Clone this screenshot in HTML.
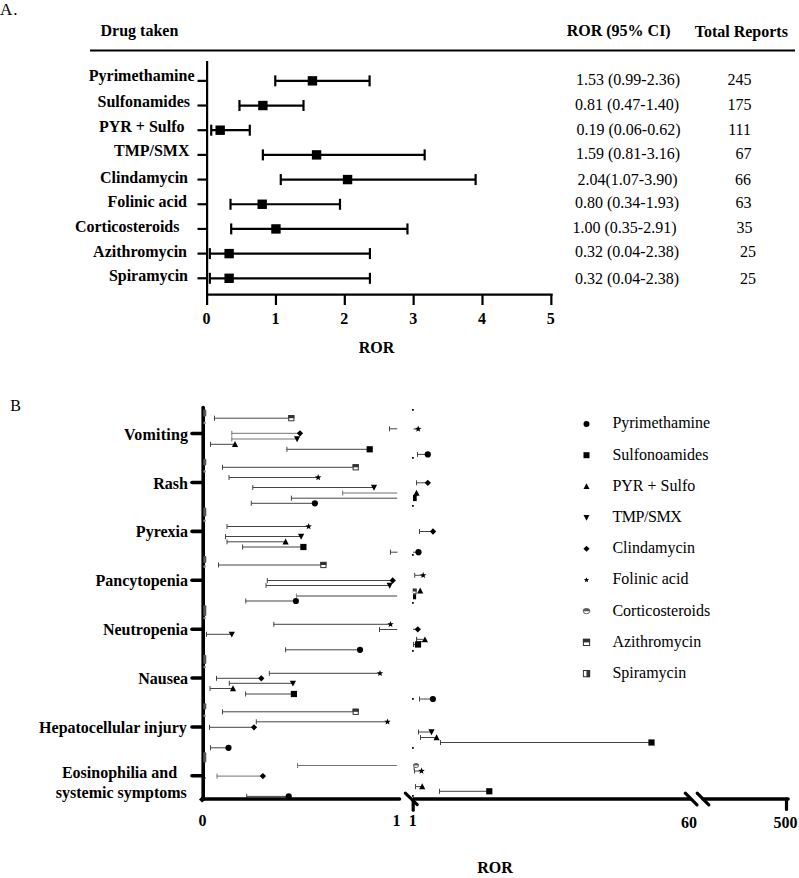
<!DOCTYPE html>
<html><head><meta charset="utf-8"><style>
html,body{margin:0;padding:0;background:#fff;width:799px;height:878px;overflow:hidden}
svg{display:block;font-family:"Liberation Serif", serif}
</style></head><body>
<svg width="799" height="878" viewBox="0 0 799 878">
<defs><clipPath id="rc"><rect x="412.9" y="380" width="400" height="420"/></clipPath></defs>
<rect width="799" height="878" fill="#fff"/>
<text x="0" y="14.6" font-size="17" letter-spacing="1" fill="#000">A.</text>
<text x="100.5" y="36.2" font-weight="bold" font-size="16" text-anchor="start" fill="#000">Drug taken</text>
<text x="566.7" y="36.2" font-weight="bold" font-size="16" text-anchor="start" fill="#000">ROR (95% CI)</text>
<text x="694.7" y="36.6" font-weight="bold" font-size="16" text-anchor="start" fill="#000">Total Reports</text>
<line x1="90" y1="50.5" x2="795" y2="50.5" stroke="#000" stroke-width="2.2" stroke-linecap="butt"/>
<line x1="207.1" y1="61" x2="207.1" y2="295.5" stroke="#000" stroke-width="2.2" stroke-linecap="butt"/>
<line x1="206.5" y1="294.6" x2="552.6" y2="294.6" stroke="#000" stroke-width="2.2" stroke-linecap="butt"/>
<line x1="207.1" y1="294" x2="207.1" y2="305" stroke="#000" stroke-width="2.2" stroke-linecap="butt"/>
<text x="206.6" y="324" font-weight="bold" font-size="16" text-anchor="middle" fill="#000">0</text>
<line x1="275.95" y1="294" x2="275.95" y2="305" stroke="#000" stroke-width="2.2" stroke-linecap="butt"/>
<text x="275.45" y="324" font-weight="bold" font-size="16" text-anchor="middle" fill="#000">1</text>
<line x1="344.79999999999995" y1="294" x2="344.79999999999995" y2="305" stroke="#000" stroke-width="2.2" stroke-linecap="butt"/>
<text x="344.29999999999995" y="324" font-weight="bold" font-size="16" text-anchor="middle" fill="#000">2</text>
<line x1="413.65" y1="294" x2="413.65" y2="305" stroke="#000" stroke-width="2.2" stroke-linecap="butt"/>
<text x="413.15" y="324" font-weight="bold" font-size="16" text-anchor="middle" fill="#000">3</text>
<line x1="482.5" y1="294" x2="482.5" y2="305" stroke="#000" stroke-width="2.2" stroke-linecap="butt"/>
<text x="482.0" y="324" font-weight="bold" font-size="16" text-anchor="middle" fill="#000">4</text>
<line x1="551.35" y1="294" x2="551.35" y2="305" stroke="#000" stroke-width="2.2" stroke-linecap="butt"/>
<text x="550.85" y="324" font-weight="bold" font-size="16" text-anchor="middle" fill="#000">5</text>
<text x="376.5" y="352.8" font-weight="bold" font-size="16" text-anchor="middle" fill="#000">ROR</text>
<line x1="197.5" y1="80.85" x2="207.1" y2="80.85" stroke="#000" stroke-width="2.2" stroke-linecap="butt"/>
<text x="194.5" y="81" font-weight="bold" font-size="16" text-anchor="end" fill="#000">Pyrimethamine</text>
<line x1="275.26149999999996" y1="80.85" x2="369.586" y2="80.85" stroke="#000" stroke-width="2.2" stroke-linecap="butt"/>
<line x1="275.26149999999996" y1="75.35" x2="275.26149999999996" y2="86.35" stroke="#000" stroke-width="2.2" stroke-linecap="butt"/>
<line x1="369.586" y1="75.35" x2="369.586" y2="86.35" stroke="#000" stroke-width="2.2" stroke-linecap="butt"/>
<rect x="307.74" y="76.15" width="9.4" height="9.4" fill="#000"/>
<text x="576" y="85.4" font-weight="normal" font-size="16" text-anchor="start" fill="#000">1.53 (0.99-2.36)</text>
<text x="751.5" y="85.4" font-weight="normal" font-size="16" text-anchor="end" fill="#000">245</text>
<line x1="197.5" y1="105.53" x2="207.1" y2="105.53" stroke="#000" stroke-width="2.2" stroke-linecap="butt"/>
<text x="190" y="106.7" font-weight="bold" font-size="16" text-anchor="end" fill="#000">Sulfonamides</text>
<line x1="239.4595" y1="105.53" x2="303.49" y2="105.53" stroke="#000" stroke-width="2.2" stroke-linecap="butt"/>
<line x1="239.4595" y1="100.03" x2="239.4595" y2="111.03" stroke="#000" stroke-width="2.2" stroke-linecap="butt"/>
<line x1="303.49" y1="100.03" x2="303.49" y2="111.03" stroke="#000" stroke-width="2.2" stroke-linecap="butt"/>
<rect x="258.17" y="100.83" width="9.4" height="9.4" fill="#000"/>
<text x="575" y="110.15" font-weight="normal" font-size="16" text-anchor="start" fill="#000">0.81 (0.47-1.40)</text>
<text x="751.5" y="110.15" font-weight="normal" font-size="16" text-anchor="end" fill="#000">175</text>
<line x1="197.5" y1="130.20999999999998" x2="207.1" y2="130.20999999999998" stroke="#000" stroke-width="2.2" stroke-linecap="butt"/>
<text x="184.5" y="131.6" font-weight="bold" font-size="16" text-anchor="end" fill="#000">PYR + Sulfo</text>
<line x1="211.231" y1="130.20999999999998" x2="249.78699999999998" y2="130.20999999999998" stroke="#000" stroke-width="2.2" stroke-linecap="butt"/>
<line x1="211.231" y1="124.70999999999998" x2="211.231" y2="135.70999999999998" stroke="#000" stroke-width="2.2" stroke-linecap="butt"/>
<line x1="249.78699999999998" y1="124.70999999999998" x2="249.78699999999998" y2="135.70999999999998" stroke="#000" stroke-width="2.2" stroke-linecap="butt"/>
<rect x="215.48" y="125.51" width="9.4" height="9.4" fill="#000"/>
<text x="576.5" y="134.9" font-weight="normal" font-size="16" text-anchor="start" fill="#000">0.19 (0.06-0.62)</text>
<text x="751" y="134.9" font-weight="normal" font-size="16" text-anchor="end" fill="#000">111</text>
<line x1="197.5" y1="154.89" x2="207.1" y2="154.89" stroke="#000" stroke-width="2.2" stroke-linecap="butt"/>
<text x="189.5" y="156.2" font-weight="bold" font-size="16" text-anchor="end" fill="#000">TMP/SMX</text>
<line x1="262.8685" y1="154.89" x2="424.666" y2="154.89" stroke="#000" stroke-width="2.2" stroke-linecap="butt"/>
<line x1="262.8685" y1="149.39" x2="262.8685" y2="160.39" stroke="#000" stroke-width="2.2" stroke-linecap="butt"/>
<line x1="424.666" y1="149.39" x2="424.666" y2="160.39" stroke="#000" stroke-width="2.2" stroke-linecap="butt"/>
<rect x="311.87" y="150.19" width="9.4" height="9.4" fill="#000"/>
<text x="576" y="159.35" font-weight="normal" font-size="16" text-anchor="start" fill="#000">1.59 (0.81-3.16)</text>
<text x="751.5" y="159.35" font-weight="normal" font-size="16" text-anchor="end" fill="#000">67</text>
<line x1="197.5" y1="179.57" x2="207.1" y2="179.57" stroke="#000" stroke-width="2.2" stroke-linecap="butt"/>
<text x="188" y="182.6" font-weight="bold" font-size="16" text-anchor="end" fill="#000">Clindamycin</text>
<line x1="280.7695" y1="179.57" x2="475.615" y2="179.57" stroke="#000" stroke-width="2.2" stroke-linecap="butt"/>
<line x1="280.7695" y1="174.07" x2="280.7695" y2="185.07" stroke="#000" stroke-width="2.2" stroke-linecap="butt"/>
<line x1="475.615" y1="174.07" x2="475.615" y2="185.07" stroke="#000" stroke-width="2.2" stroke-linecap="butt"/>
<rect x="342.85" y="174.87" width="9.4" height="9.4" fill="#000"/>
<text x="577.5" y="185.2" font-weight="normal" font-size="16" text-anchor="start" fill="#000">2.04(1.07-3.90)</text>
<text x="751" y="185.2" font-weight="normal" font-size="16" text-anchor="end" fill="#000">66</text>
<line x1="197.5" y1="204.25" x2="207.1" y2="204.25" stroke="#000" stroke-width="2.2" stroke-linecap="butt"/>
<text x="187" y="207" font-weight="bold" font-size="16" text-anchor="end" fill="#000">Folinic acid</text>
<line x1="230.509" y1="204.25" x2="339.9805" y2="204.25" stroke="#000" stroke-width="2.2" stroke-linecap="butt"/>
<line x1="230.509" y1="198.75" x2="230.509" y2="209.75" stroke="#000" stroke-width="2.2" stroke-linecap="butt"/>
<line x1="339.9805" y1="198.75" x2="339.9805" y2="209.75" stroke="#000" stroke-width="2.2" stroke-linecap="butt"/>
<rect x="257.48" y="199.55" width="9.4" height="9.4" fill="#000"/>
<text x="575" y="208.35" font-weight="normal" font-size="16" text-anchor="start" fill="#000">0.80 (0.34-1.93)</text>
<text x="751.5" y="208.35" font-weight="normal" font-size="16" text-anchor="end" fill="#000">63</text>
<line x1="197.5" y1="228.92999999999998" x2="207.1" y2="228.92999999999998" stroke="#000" stroke-width="2.2" stroke-linecap="butt"/>
<text x="179.5" y="231.7" font-weight="bold" font-size="16" text-anchor="end" fill="#000">Corticosteroids</text>
<line x1="231.1975" y1="228.92999999999998" x2="407.45349999999996" y2="228.92999999999998" stroke="#000" stroke-width="2.2" stroke-linecap="butt"/>
<line x1="231.1975" y1="223.42999999999998" x2="231.1975" y2="234.42999999999998" stroke="#000" stroke-width="2.2" stroke-linecap="butt"/>
<line x1="407.45349999999996" y1="223.42999999999998" x2="407.45349999999996" y2="234.42999999999998" stroke="#000" stroke-width="2.2" stroke-linecap="butt"/>
<rect x="271.25" y="224.23" width="9.4" height="9.4" fill="#000"/>
<text x="572.5" y="233.1" font-weight="normal" font-size="16" text-anchor="start" fill="#000">1.00 (0.35-2.91)</text>
<text x="752.5" y="233.1" font-weight="normal" font-size="16" text-anchor="end" fill="#000">35</text>
<line x1="197.5" y1="253.60999999999999" x2="207.1" y2="253.60999999999999" stroke="#000" stroke-width="2.2" stroke-linecap="butt"/>
<text x="187" y="256.5" font-weight="bold" font-size="16" text-anchor="end" fill="#000">Azithromycin</text>
<line x1="209.85399999999998" y1="253.60999999999999" x2="369.93025" y2="253.60999999999999" stroke="#000" stroke-width="2.2" stroke-linecap="butt"/>
<line x1="209.85399999999998" y1="248.10999999999999" x2="209.85399999999998" y2="259.11" stroke="#000" stroke-width="2.2" stroke-linecap="butt"/>
<line x1="369.93025" y1="248.10999999999999" x2="369.93025" y2="259.11" stroke="#000" stroke-width="2.2" stroke-linecap="butt"/>
<rect x="224.43" y="248.91" width="9.4" height="9.4" fill="#000"/>
<text x="575" y="257.45" font-weight="normal" font-size="16" text-anchor="start" fill="#000">0.32 (0.04-2.38)</text>
<text x="756" y="257.45" font-weight="normal" font-size="16" text-anchor="end" fill="#000">25</text>
<line x1="197.5" y1="278.28999999999996" x2="207.1" y2="278.28999999999996" stroke="#000" stroke-width="2.2" stroke-linecap="butt"/>
<text x="188" y="281.1" font-weight="bold" font-size="16" text-anchor="end" fill="#000">Spiramycin</text>
<line x1="209.85399999999998" y1="278.28999999999996" x2="369.93025" y2="278.28999999999996" stroke="#000" stroke-width="2.2" stroke-linecap="butt"/>
<line x1="209.85399999999998" y1="272.78999999999996" x2="209.85399999999998" y2="283.78999999999996" stroke="#000" stroke-width="2.2" stroke-linecap="butt"/>
<line x1="369.93025" y1="272.78999999999996" x2="369.93025" y2="283.78999999999996" stroke="#000" stroke-width="2.2" stroke-linecap="butt"/>
<rect x="224.43" y="273.59" width="9.4" height="9.4" fill="#000"/>
<text x="575" y="284.2" font-weight="normal" font-size="16" text-anchor="start" fill="#000">0.32 (0.04-2.38)</text>
<text x="756" y="284.2" font-weight="normal" font-size="16" text-anchor="end" fill="#000">25</text>
<text x="10.3" y="410.6" font-weight="normal" font-size="16" text-anchor="start" fill="#000">B</text>
<line x1="214.5" y1="418.2" x2="291.3" y2="418.2" stroke="#444" stroke-width="1" stroke-linecap="butt"/>
<line x1="214.5" y1="415.7" x2="214.5" y2="420.7" stroke="#444" stroke-width="1" stroke-linecap="butt"/>
<rect x="288.7" y="415.59999999999997" width="5.2" height="5.2" fill="#fff" stroke="#333" stroke-width="1"/>
<rect x="288.2" y="415.09999999999997" width="6.2" height="3.1" fill="#333"/>
<line x1="231.8" y1="433.3" x2="300" y2="433.3" stroke="#727272" stroke-width="1" stroke-linecap="butt"/>
<line x1="231.8" y1="430.8" x2="231.8" y2="435.8" stroke="#727272" stroke-width="1" stroke-linecap="butt"/>
<polygon points="300,430.13800000000003 303.162,433.3 300,436.462 296.838,433.3" fill="#000"/>
<line x1="231.8" y1="439.0" x2="297.1" y2="439.0" stroke="#727272" stroke-width="1" stroke-linecap="butt"/>
<line x1="231.8" y1="436.5" x2="231.8" y2="441.5" stroke="#727272" stroke-width="1" stroke-linecap="butt"/>
<polygon points="297.1,442.255 300.20000000000005,436.365 294.0,436.365" fill="#000"/>
<line x1="210.5" y1="444.3" x2="235" y2="444.3" stroke="#444" stroke-width="1" stroke-linecap="butt"/>
<line x1="210.5" y1="441.8" x2="210.5" y2="446.8" stroke="#444" stroke-width="1" stroke-linecap="butt"/>
<polygon points="235,441.045 238.1,446.935 231.9,446.935" fill="#000"/>
<line x1="286.9" y1="449.3" x2="369.7" y2="449.3" stroke="#444" stroke-width="1" stroke-linecap="butt"/>
<line x1="286.9" y1="446.8" x2="286.9" y2="451.8" stroke="#444" stroke-width="1" stroke-linecap="butt"/>
<rect x="366.59999999999997" y="446.2" width="6.2" height="6.2" fill="#000"/>
<rect x="412" y="409" width="1.8" height="1.8" fill="#111"/>
<line x1="389.5" y1="428.8" x2="397.2" y2="428.8" stroke="#444" stroke-width="1" stroke-linecap="butt"/>
<line x1="389.5" y1="426.3" x2="389.5" y2="431.3" stroke="#444" stroke-width="1" stroke-linecap="butt"/>
<line x1="413.5" y1="429" x2="418" y2="429" stroke="#444" stroke-width="1" stroke-linecap="butt"/>
<polygon points="418.20,425.59 419.04,427.84 421.44,427.95 419.56,429.44 420.20,431.76 418.20,430.43 416.20,431.76 416.84,429.44 414.96,427.95 417.36,427.84" fill="#000"/>
<line x1="417.5" y1="454.4" x2="427.8" y2="454.4" stroke="#444" stroke-width="1" stroke-linecap="butt"/>
<line x1="417.5" y1="451.9" x2="417.5" y2="456.9" stroke="#444" stroke-width="1" stroke-linecap="butt"/>
<circle cx="427.8" cy="454.4" r="3.1" fill="#000"/>
<rect x="412" y="457" width="1.8" height="1.8" fill="#111"/>
<line x1="222.5" y1="467.3" x2="355.7" y2="467.3" stroke="#444" stroke-width="1" stroke-linecap="butt"/>
<line x1="222.5" y1="464.8" x2="222.5" y2="469.8" stroke="#444" stroke-width="1" stroke-linecap="butt"/>
<rect x="353.09999999999997" y="464.7" width="5.2" height="5.2" fill="#fff" stroke="#333" stroke-width="1"/>
<rect x="352.59999999999997" y="464.2" width="6.2" height="3.1" fill="#333"/>
<line x1="229" y1="477.5" x2="318.2" y2="477.5" stroke="#444" stroke-width="1" stroke-linecap="butt"/>
<line x1="229" y1="475.0" x2="229" y2="480.0" stroke="#444" stroke-width="1" stroke-linecap="butt"/>
<polygon points="318.20,474.09 319.04,476.34 321.44,476.45 319.56,477.94 320.20,480.26 318.20,478.93 316.20,480.26 316.84,477.94 314.96,476.45 317.36,476.34" fill="#000"/>
<line x1="252.8" y1="487.5" x2="374" y2="487.5" stroke="#444" stroke-width="1" stroke-linecap="butt"/>
<line x1="252.8" y1="485.0" x2="252.8" y2="490.0" stroke="#444" stroke-width="1" stroke-linecap="butt"/>
<polygon points="374,490.755 377.1,484.865 370.9,484.865" fill="#000"/>
<line x1="342.7" y1="493" x2="397.2" y2="493" stroke="#727272" stroke-width="1" stroke-linecap="butt"/>
<line x1="342.7" y1="490.5" x2="342.7" y2="495.5" stroke="#727272" stroke-width="1" stroke-linecap="butt"/>
<line x1="291.4" y1="498.2" x2="397.2" y2="498.2" stroke="#444" stroke-width="1" stroke-linecap="butt"/>
<line x1="291.4" y1="495.7" x2="291.4" y2="500.7" stroke="#444" stroke-width="1" stroke-linecap="butt"/>
<line x1="251.3" y1="503.3" x2="314.9" y2="503.3" stroke="#444" stroke-width="1" stroke-linecap="butt"/>
<line x1="251.3" y1="500.8" x2="251.3" y2="505.8" stroke="#444" stroke-width="1" stroke-linecap="butt"/>
<circle cx="314.9" cy="503.3" r="3.1" fill="#000"/>
<line x1="416.5" y1="482.8" x2="427.8" y2="482.8" stroke="#444" stroke-width="1" stroke-linecap="butt"/>
<line x1="416.5" y1="480.3" x2="416.5" y2="485.3" stroke="#444" stroke-width="1" stroke-linecap="butt"/>
<polygon points="427.8,479.63800000000003 430.962,482.8 427.8,485.962 424.63800000000003,482.8" fill="#000"/>
<g clip-path="url(#rc)">
<rect x="410.5" y="494.9" width="6.2" height="6.2" fill="#000"/>
</g>
<polygon points="416.5,489.745 419.6,495.635 413.4,495.635" fill="#000"/>
<rect x="412" y="505" width="1.8" height="1.8" fill="#111"/>
<line x1="227" y1="526.5" x2="308.6" y2="526.5" stroke="#444" stroke-width="1" stroke-linecap="butt"/>
<line x1="227" y1="524.0" x2="227" y2="529.0" stroke="#444" stroke-width="1" stroke-linecap="butt"/>
<polygon points="308.60,523.09 309.44,525.34 311.84,525.45 309.96,526.94 310.60,529.26 308.60,527.93 306.60,529.26 307.24,526.94 305.36,525.45 307.76,525.34" fill="#000"/>
<line x1="225.5" y1="536.5" x2="301.1" y2="536.5" stroke="#444" stroke-width="1" stroke-linecap="butt"/>
<line x1="225.5" y1="534.0" x2="225.5" y2="539.0" stroke="#444" stroke-width="1" stroke-linecap="butt"/>
<polygon points="301.1,539.755 304.20000000000005,533.865 298.0,533.865" fill="#000"/>
<line x1="227" y1="541.8" x2="285.6" y2="541.8" stroke="#444" stroke-width="1" stroke-linecap="butt"/>
<line x1="227" y1="539.3" x2="227" y2="544.3" stroke="#444" stroke-width="1" stroke-linecap="butt"/>
<polygon points="285.6,538.545 288.70000000000005,544.435 282.5,544.435" fill="#000"/>
<line x1="242.6" y1="547" x2="303.4" y2="547" stroke="#444" stroke-width="1" stroke-linecap="butt"/>
<line x1="242.6" y1="544.5" x2="242.6" y2="549.5" stroke="#444" stroke-width="1" stroke-linecap="butt"/>
<rect x="300.29999999999995" y="543.9" width="6.2" height="6.2" fill="#000"/>
<line x1="390.5" y1="552.2" x2="397.5" y2="552.2" stroke="#444" stroke-width="1" stroke-linecap="butt"/>
<line x1="390.5" y1="549.7" x2="390.5" y2="554.7" stroke="#444" stroke-width="1" stroke-linecap="butt"/>
<line x1="419.5" y1="531.5" x2="433" y2="531.5" stroke="#444" stroke-width="1" stroke-linecap="butt"/>
<line x1="419.5" y1="529.0" x2="419.5" y2="534.0" stroke="#444" stroke-width="1" stroke-linecap="butt"/>
<polygon points="433,528.338 436.162,531.5 433,534.662 429.838,531.5" fill="#000"/>
<line x1="413" y1="552.2" x2="418" y2="552.2" stroke="#444" stroke-width="1" stroke-linecap="butt"/>
<circle cx="418.5" cy="552.2" r="3.1" fill="#000"/>
<rect x="412" y="554" width="1.8" height="1.8" fill="#111"/>
<line x1="218.5" y1="565" x2="323.4" y2="565" stroke="#444" stroke-width="1" stroke-linecap="butt"/>
<line x1="218.5" y1="562.5" x2="218.5" y2="567.5" stroke="#444" stroke-width="1" stroke-linecap="butt"/>
<rect x="320.79999999999995" y="562.4" width="5.2" height="5.2" fill="#fff" stroke="#333" stroke-width="1"/>
<rect x="320.29999999999995" y="561.9" width="6.2" height="3.1" fill="#333"/>
<line x1="267.3" y1="580.5" x2="392.7" y2="580.5" stroke="#444" stroke-width="1" stroke-linecap="butt"/>
<line x1="267.3" y1="578.0" x2="267.3" y2="583.0" stroke="#444" stroke-width="1" stroke-linecap="butt"/>
<polygon points="392.7,577.338 395.86199999999997,580.5 392.7,583.662 389.538,580.5" fill="#000"/>
<line x1="266" y1="585.5" x2="389.7" y2="585.5" stroke="#444" stroke-width="1" stroke-linecap="butt"/>
<line x1="266" y1="583.0" x2="266" y2="588.0" stroke="#444" stroke-width="1" stroke-linecap="butt"/>
<polygon points="389.7,588.755 392.8,582.865 386.59999999999997,582.865" fill="#000"/>
<line x1="296.4" y1="595.9" x2="397.2" y2="595.9" stroke="#808080" stroke-width="1.5" stroke-linecap="butt"/>
<line x1="296.4" y1="593.4" x2="296.4" y2="598.4" stroke="#808080" stroke-width="1" stroke-linecap="butt"/>
<line x1="245.8" y1="601" x2="295.9" y2="601" stroke="#444" stroke-width="1" stroke-linecap="butt"/>
<line x1="245.8" y1="598.5" x2="245.8" y2="603.5" stroke="#444" stroke-width="1" stroke-linecap="butt"/>
<circle cx="295.9" cy="601" r="3.1" fill="#000"/>
<line x1="414.7" y1="575.3" x2="423.2" y2="575.3" stroke="#444" stroke-width="1" stroke-linecap="butt"/>
<line x1="414.7" y1="572.8" x2="414.7" y2="577.8" stroke="#444" stroke-width="1" stroke-linecap="butt"/>
<polygon points="423.20,571.89 424.04,574.14 426.44,574.25 424.56,575.74 425.20,578.06 423.20,576.73 421.20,578.06 421.84,575.74 419.96,574.25 422.36,574.14" fill="#000"/>
<line x1="413.2" y1="588.5" x2="413.2" y2="593" stroke="#444" stroke-width="1" stroke-linecap="butt"/>
<g clip-path="url(#rc)">
<rect x="411.5" y="589.2" width="4.6" height="4.6" fill="#fff" stroke="#333" stroke-width="1"/>
<rect x="411.0" y="588.7" width="5.6" height="2.8" fill="#333"/>
<rect x="411.1" y="594.3" width="5.0" height="5.0" fill="#000"/>
</g>
<polygon points="420.2,587.545 423.3,593.435 417.09999999999997,593.435" fill="#000"/>
<rect x="412" y="602" width="1.8" height="1.8" fill="#111"/>
<line x1="273.8" y1="624.3" x2="390.5" y2="624.3" stroke="#444" stroke-width="1" stroke-linecap="butt"/>
<line x1="273.8" y1="621.8" x2="273.8" y2="626.8" stroke="#444" stroke-width="1" stroke-linecap="butt"/>
<polygon points="390.50,620.89 391.34,623.14 393.74,623.25 391.86,624.74 392.50,627.06 390.50,625.73 388.50,627.06 389.14,624.74 387.26,623.25 389.66,623.14" fill="#000"/>
<line x1="379.5" y1="629.5" x2="397.2" y2="629.5" stroke="#444" stroke-width="1" stroke-linecap="butt"/>
<line x1="379.5" y1="627.0" x2="379.5" y2="632.0" stroke="#444" stroke-width="1" stroke-linecap="butt"/>
<line x1="206.5" y1="634.3" x2="231.8" y2="634.3" stroke="#444" stroke-width="1" stroke-linecap="butt"/>
<line x1="206.5" y1="631.8" x2="206.5" y2="636.8" stroke="#444" stroke-width="1" stroke-linecap="butt"/>
<polygon points="231.8,637.555 234.9,631.665 228.70000000000002,631.665" fill="#000"/>
<line x1="285.6" y1="649.8" x2="360" y2="649.8" stroke="#444" stroke-width="1" stroke-linecap="butt"/>
<line x1="285.6" y1="647.3" x2="285.6" y2="652.3" stroke="#444" stroke-width="1" stroke-linecap="butt"/>
<circle cx="360" cy="649.8" r="3.1" fill="#000"/>
<line x1="413" y1="629.3" x2="417" y2="629.3" stroke="#444" stroke-width="1" stroke-linecap="butt"/>
<polygon points="417.8,626.1379999999999 420.962,629.3 417.8,632.462 414.63800000000003,629.3" fill="#000"/>
<line x1="416.6" y1="639.3" x2="423" y2="639.3" stroke="#444" stroke-width="1" stroke-linecap="butt"/>
<line x1="416.6" y1="636.8" x2="416.6" y2="641.8" stroke="#444" stroke-width="1" stroke-linecap="butt"/>
<line x1="416.6" y1="641.6" x2="423" y2="641.6" stroke="#444" stroke-width="1" stroke-linecap="butt"/>
<line x1="416.6" y1="637.3" x2="416.6" y2="642" stroke="#444" stroke-width="1" stroke-linecap="butt"/>
<polygon points="424.9,636.445 428.0,642.335 421.79999999999995,642.335" fill="#000"/>
<line x1="413.5" y1="644.5" x2="418" y2="644.5" stroke="#444" stroke-width="1" stroke-linecap="butt"/>
<line x1="413.5" y1="642.0" x2="413.5" y2="647.0" stroke="#444" stroke-width="1" stroke-linecap="butt"/>
<rect x="414.9" y="641.4" width="6.2" height="6.2" fill="#000"/>
<rect x="412" y="650" width="1.8" height="1.8" fill="#111"/>
<line x1="269.3" y1="673.3" x2="380" y2="673.3" stroke="#444" stroke-width="1" stroke-linecap="butt"/>
<line x1="269.3" y1="670.8" x2="269.3" y2="675.8" stroke="#444" stroke-width="1" stroke-linecap="butt"/>
<polygon points="380.00,669.89 380.84,672.14 383.24,672.25 381.36,673.74 382.00,676.06 380.00,674.73 378.00,676.06 378.64,673.74 376.76,672.25 379.16,672.14" fill="#000"/>
<line x1="216.5" y1="678.3" x2="261.3" y2="678.3" stroke="#444" stroke-width="1" stroke-linecap="butt"/>
<line x1="216.5" y1="675.8" x2="216.5" y2="680.8" stroke="#444" stroke-width="1" stroke-linecap="butt"/>
<polygon points="261.3,675.1379999999999 264.462,678.3 261.3,681.462 258.13800000000003,678.3" fill="#000"/>
<line x1="229.3" y1="683.3" x2="292.9" y2="683.3" stroke="#444" stroke-width="1" stroke-linecap="butt"/>
<line x1="229.3" y1="680.8" x2="229.3" y2="685.8" stroke="#444" stroke-width="1" stroke-linecap="butt"/>
<polygon points="292.9,686.555 296.0,680.665 289.79999999999995,680.665" fill="#000"/>
<line x1="210" y1="688.5" x2="233" y2="688.5" stroke="#444" stroke-width="1" stroke-linecap="butt"/>
<line x1="210" y1="686.0" x2="210" y2="691.0" stroke="#444" stroke-width="1" stroke-linecap="butt"/>
<polygon points="233,685.245 236.1,691.135 229.9,691.135" fill="#000"/>
<line x1="245.6" y1="694" x2="293.9" y2="694" stroke="#444" stroke-width="1" stroke-linecap="butt"/>
<line x1="245.6" y1="691.5" x2="245.6" y2="696.5" stroke="#444" stroke-width="1" stroke-linecap="butt"/>
<rect x="290.79999999999995" y="690.9" width="6.2" height="6.2" fill="#000"/>
<line x1="419.5" y1="699" x2="432.9" y2="699" stroke="#444" stroke-width="1" stroke-linecap="butt"/>
<line x1="419.5" y1="696.5" x2="419.5" y2="701.5" stroke="#444" stroke-width="1" stroke-linecap="butt"/>
<circle cx="432.9" cy="699" r="3.1" fill="#000"/>
<rect x="412" y="698" width="1.8" height="1.8" fill="#111"/>
<line x1="222.5" y1="711.8" x2="355.7" y2="711.8" stroke="#444" stroke-width="1" stroke-linecap="butt"/>
<line x1="222.5" y1="709.3" x2="222.5" y2="714.3" stroke="#444" stroke-width="1" stroke-linecap="butt"/>
<rect x="353.09999999999997" y="709.1999999999999" width="5.2" height="5.2" fill="#fff" stroke="#333" stroke-width="1"/>
<rect x="352.59999999999997" y="708.6999999999999" width="6.2" height="3.1" fill="#333"/>
<line x1="256.3" y1="721.8" x2="387.5" y2="721.8" stroke="#444" stroke-width="1" stroke-linecap="butt"/>
<line x1="256.3" y1="719.3" x2="256.3" y2="724.3" stroke="#444" stroke-width="1" stroke-linecap="butt"/>
<polygon points="387.50,718.39 388.34,720.64 390.74,720.75 388.86,722.24 389.50,724.56 387.50,723.23 385.50,724.56 386.14,722.24 384.26,720.75 386.66,720.64" fill="#000"/>
<line x1="209.5" y1="727.3" x2="254" y2="727.3" stroke="#444" stroke-width="1" stroke-linecap="butt"/>
<line x1="209.5" y1="724.8" x2="209.5" y2="729.8" stroke="#444" stroke-width="1" stroke-linecap="butt"/>
<polygon points="254,724.1379999999999 257.162,727.3 254,730.462 250.838,727.3" fill="#000"/>
<line x1="210.5" y1="747.8" x2="228.5" y2="747.8" stroke="#444" stroke-width="1" stroke-linecap="butt"/>
<line x1="210.5" y1="745.3" x2="210.5" y2="750.3" stroke="#444" stroke-width="1" stroke-linecap="butt"/>
<circle cx="228.5" cy="747.8" r="3.1" fill="#000"/>
<line x1="418.5" y1="732" x2="431.5" y2="732" stroke="#444" stroke-width="1" stroke-linecap="butt"/>
<line x1="418.5" y1="729.5" x2="418.5" y2="734.5" stroke="#444" stroke-width="1" stroke-linecap="butt"/>
<polygon points="431.5,735.255 434.6,729.365 428.4,729.365" fill="#000"/>
<line x1="420.5" y1="737.5" x2="436.6" y2="737.5" stroke="#444" stroke-width="1" stroke-linecap="butt"/>
<line x1="420.5" y1="735.0" x2="420.5" y2="740.0" stroke="#444" stroke-width="1" stroke-linecap="butt"/>
<polygon points="436.6,734.245 439.70000000000005,740.135 433.5,740.135" fill="#000"/>
<line x1="440.5" y1="742.5" x2="651.5" y2="742.5" stroke="#444" stroke-width="1" stroke-linecap="butt"/>
<line x1="440.5" y1="740.0" x2="440.5" y2="745.0" stroke="#444" stroke-width="1" stroke-linecap="butt"/>
<rect x="648.4" y="739.4" width="6.2" height="6.2" fill="#000"/>
<rect x="412" y="747" width="1.8" height="1.8" fill="#111"/>
<line x1="297.6" y1="765.5" x2="397.2" y2="765.5" stroke="#727272" stroke-width="1" stroke-linecap="butt"/>
<line x1="297.6" y1="763.0" x2="297.6" y2="768.0" stroke="#727272" stroke-width="1" stroke-linecap="butt"/>
<line x1="217" y1="776.1" x2="262.9" y2="776.1" stroke="#727272" stroke-width="1" stroke-linecap="butt"/>
<line x1="217" y1="773.6" x2="217" y2="778.6" stroke="#727272" stroke-width="1" stroke-linecap="butt"/>
<polygon points="262.9,772.938 266.06199999999995,776.1 262.9,779.2620000000001 259.738,776.1" fill="#000"/>
<line x1="246.7" y1="796.4" x2="288.7" y2="796.4" stroke="#444" stroke-width="1" stroke-linecap="butt"/>
<line x1="246.7" y1="793.9" x2="246.7" y2="798.9" stroke="#444" stroke-width="1" stroke-linecap="butt"/>
<circle cx="288.7" cy="796.4" r="3.1" fill="#000"/>
<line x1="414" y1="767.5" x2="416" y2="767.5" stroke="#727272" stroke-width="1" stroke-linecap="butt"/>
<line x1="414" y1="765.0" x2="414" y2="770.0" stroke="#727272" stroke-width="1" stroke-linecap="butt"/>
<g clip-path="url(#rc)">
<ellipse cx="416.1" cy="765.6" rx="2.49" ry="1.96" fill="#fff" stroke="#666" stroke-width="1"/>
<path d="M413.11,765.6 A2.99,2.46 0 0 1 419.09,765.6 Z" fill="#5a5a5a"/>
</g>
<line x1="414.5" y1="771" x2="421.5" y2="771" stroke="#444" stroke-width="1" stroke-linecap="butt"/>
<line x1="414.5" y1="768.5" x2="414.5" y2="773.5" stroke="#444" stroke-width="1" stroke-linecap="butt"/>
<polygon points="421.50,767.59 422.34,769.84 424.74,769.95 422.86,771.44 423.50,773.76 421.50,772.43 419.50,773.76 420.14,771.44 418.26,769.95 420.66,769.84" fill="#000"/>
<line x1="415.5" y1="786.6" x2="422.2" y2="786.6" stroke="#444" stroke-width="1" stroke-linecap="butt"/>
<line x1="415.5" y1="784.1" x2="415.5" y2="789.1" stroke="#444" stroke-width="1" stroke-linecap="butt"/>
<polygon points="422.2,783.345 425.3,789.235 419.09999999999997,789.235" fill="#000"/>
<line x1="439.5" y1="791.3" x2="489.3" y2="791.3" stroke="#444" stroke-width="1" stroke-linecap="butt"/>
<line x1="439.5" y1="788.8" x2="439.5" y2="793.8" stroke="#444" stroke-width="1" stroke-linecap="butt"/>
<rect x="486.2" y="788.1999999999999" width="6.2" height="6.2" fill="#000"/>
<rect x="412" y="795" width="1.8" height="1.8" fill="#111"/>
<line x1="203.2" y1="407.5" x2="203.2" y2="799" stroke="#000" stroke-width="3.6" stroke-linecap="round"/>
<rect x="203.3" y="409.6" width="3" height="6.8" rx="1" fill="#555"/>
<circle cx="204.6" cy="423" r="1.3" fill="#888"/>
<rect x="203.3" y="458.8" width="3" height="6.8" rx="1" fill="#555"/>
<circle cx="204.6" cy="471.4" r="1.3" fill="#888"/>
<rect x="203.3" y="507.5" width="3" height="9.0" rx="1" fill="#555"/>
<circle cx="204.6" cy="520.8" r="1.3" fill="#888"/>
<rect x="203.3" y="556" width="3" height="7.0" rx="1" fill="#555"/>
<circle cx="204.6" cy="566.6" r="1.3" fill="#888"/>
<rect x="203.3" y="605.3" width="3" height="10.7" rx="1" fill="#555"/>
<circle cx="204.6" cy="618" r="1.3" fill="#888"/>
<rect x="203.3" y="654.7" width="3" height="9.3" rx="1" fill="#555"/>
<circle cx="204.6" cy="667" r="1.3" fill="#888"/>
<rect x="203.3" y="703.2" width="3" height="6.2" rx="1" fill="#555"/>
<circle cx="204.6" cy="715.8" r="1.3" fill="#888"/>
<rect x="203.3" y="752.2" width="3" height="10.3" rx="1" fill="#555"/>
<polygon points="203,777.6 206,777.6 204,781.2" fill="#111"/>
<polygon points="202.2,796.2 205.4,799.4 202.2,802.6 199,799.4" fill="#000"/>
<line x1="192" y1="433.5" x2="203" y2="433.5" stroke="#000" stroke-width="3.6" stroke-linecap="round"/>
<text x="188.2" y="439.5" font-weight="bold" font-size="16" text-anchor="end" fill="#000" letter-spacing="0.2">Vomiting</text>
<line x1="192" y1="482.5" x2="203" y2="482.5" stroke="#000" stroke-width="3.6" stroke-linecap="round"/>
<text x="188" y="488.5" font-weight="bold" font-size="16" text-anchor="end" fill="#000">Rash</text>
<line x1="192" y1="531.4" x2="203" y2="531.4" stroke="#000" stroke-width="3.6" stroke-linecap="round"/>
<text x="188" y="537.4" font-weight="bold" font-size="16" text-anchor="end" fill="#000">Pyrexia</text>
<line x1="192" y1="580.2" x2="203" y2="580.2" stroke="#000" stroke-width="3.6" stroke-linecap="round"/>
<text x="188" y="586.2" font-weight="bold" font-size="16" text-anchor="end" fill="#000">Pancytopenia</text>
<line x1="192" y1="629.2" x2="203" y2="629.2" stroke="#000" stroke-width="3.6" stroke-linecap="round"/>
<text x="188" y="635.2" font-weight="bold" font-size="16" text-anchor="end" fill="#000">Neutropenia</text>
<line x1="192" y1="678" x2="203" y2="678" stroke="#000" stroke-width="3.6" stroke-linecap="round"/>
<text x="188" y="684.0" font-weight="bold" font-size="16" text-anchor="end" fill="#000">Nausea</text>
<line x1="192" y1="727" x2="203" y2="727" stroke="#000" stroke-width="3.6" stroke-linecap="round"/>
<text x="186.8" y="733.0" font-weight="bold" font-size="16" text-anchor="end" fill="#000">Hepatocellular injury</text>
<line x1="192" y1="775.8" x2="203" y2="775.8" stroke="#000" stroke-width="3.6" stroke-linecap="round"/>
<text x="119.5" y="778.1" font-weight="bold" font-size="16" text-anchor="middle" fill="#000">Eosinophilia and</text>
<text x="121.3" y="797.6" font-weight="bold" font-size="16" text-anchor="middle" fill="#000">systemic symptoms</text>
<line x1="202.5" y1="799" x2="399.5" y2="799" stroke="#000" stroke-width="3.6" stroke-linecap="round"/>
<line x1="405.3" y1="793.2" x2="417.2" y2="804.6" stroke="#000" stroke-width="3.2" stroke-linecap="round"/>
<line x1="413" y1="799" x2="691" y2="799" stroke="#000" stroke-width="3.6" stroke-linecap="butt"/>
<line x1="685.3" y1="793.2" x2="697" y2="804.8" stroke="#000" stroke-width="3.2" stroke-linecap="round"/>
<line x1="697.2" y1="793.2" x2="708.8" y2="804.8" stroke="#000" stroke-width="3.2" stroke-linecap="round"/>
<line x1="703" y1="799" x2="788" y2="799" stroke="#000" stroke-width="3.6" stroke-linecap="round"/>
<line x1="413.2" y1="799" x2="413.2" y2="810.2" stroke="#000" stroke-width="3.2" stroke-linecap="round"/>
<line x1="786.5" y1="799" x2="786.5" y2="809.5" stroke="#000" stroke-width="3.2" stroke-linecap="round"/>
<text x="202.5" y="825.6" font-weight="bold" font-size="16" text-anchor="middle" fill="#000">0</text>
<text x="396.5" y="825.6" font-weight="bold" font-size="16" text-anchor="middle" fill="#000">1</text>
<text x="412.8" y="825.6" font-weight="bold" font-size="16" text-anchor="middle" fill="#000">1</text>
<text x="689" y="827.6" font-weight="bold" font-size="16" text-anchor="middle" fill="#000">60</text>
<text x="785.5" y="827.6" font-weight="bold" font-size="16" text-anchor="middle" fill="#000">500</text>
<text x="495" y="873" font-weight="bold" font-size="16" text-anchor="middle" fill="#000">ROR</text>
<circle cx="586.5" cy="424.0" r="3.0" fill="#000"/>
<text x="612.4" y="428.3" font-weight="normal" font-size="16" text-anchor="start" fill="#000">Pyrimethamine</text>
<rect x="583.5" y="452.2" width="6.0" height="6.0" fill="#000"/>
<text x="612.4" y="459.5" font-weight="normal" font-size="16" text-anchor="start" fill="#000">Sulfonoamides</text>
<polygon points="586.5,483.25 589.5,488.95 583.5,488.95" fill="#000"/>
<text x="612.4" y="490.7" font-weight="normal" font-size="16" text-anchor="start" fill="#000">PYR + Sulfo</text>
<polygon points="586.5,520.75 589.5,515.0500000000001 583.5,515.0500000000001" fill="#000"/>
<text x="612.4" y="521.9" font-weight="normal" font-size="16" text-anchor="start" fill="#000" letter-spacing="-0.45">TMP/SMX</text>
<polygon points="586.5,545.74 589.56,548.8 586.5,551.8599999999999 583.44,548.8" fill="#000"/>
<text x="612.4" y="553.0999999999999" font-weight="normal" font-size="16" text-anchor="start" fill="#000">Clindamycin</text>
<polygon points="586.50,577.14 587.21,579.03 589.22,579.12 587.64,580.37 588.18,582.31 586.50,581.20 584.82,582.31 585.36,580.37 583.78,579.12 585.79,579.03" fill="#000"/>
<text x="612.4" y="584.3" font-weight="normal" font-size="16" text-anchor="start" fill="#000">Folinic acid</text>
<ellipse cx="586.5" cy="611.2" rx="3.21" ry="2.56" fill="#fff" stroke="#666" stroke-width="1"/>
<path d="M582.79,611.2 A3.71,3.06 0 0 1 590.21,611.2 Z" fill="#5a5a5a"/>
<text x="612.4" y="615.5" font-weight="normal" font-size="16" text-anchor="start" fill="#000">Corticosteroids</text>
<rect x="583.4" y="639.3" width="6.2" height="6.2" fill="#fff" stroke="#333" stroke-width="1"/>
<rect x="582.9" y="638.8" width="7.2" height="3.6" fill="#333"/>
<text x="612.4" y="646.6999999999999" font-weight="normal" font-size="16" text-anchor="start" fill="#000">Azithromycin</text>
<rect x="583.4" y="670.5" width="6.2" height="6.2" fill="#fff" stroke="#333" stroke-width="1"/>
<rect x="586.5" y="670.0" width="3.6" height="7.2" fill="#333"/>
<text x="612.4" y="677.9" font-weight="normal" font-size="16" text-anchor="start" fill="#000">Spiramycin</text>
</svg></body></html>
